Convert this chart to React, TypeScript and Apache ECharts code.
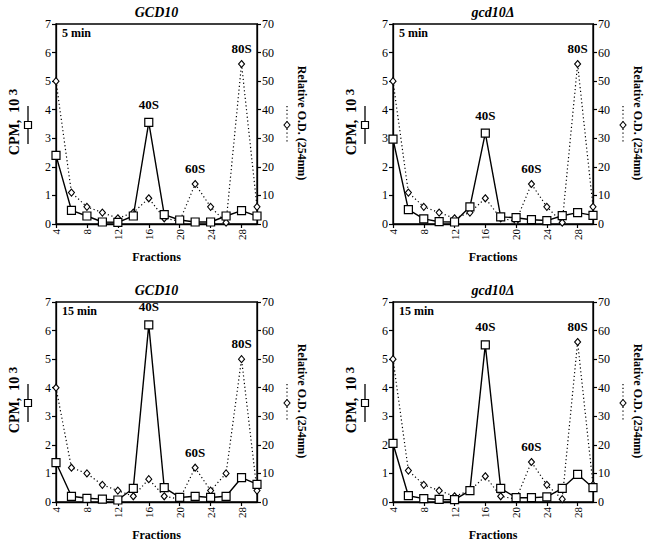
import React, { useEffect, useRef } from "react";
import * as echarts from "echarts";

const fractions = [4, 6, 8, 10, 12, 14, 16, 18, 20, 22, 24, 26, 28, 30];
const xTicks = { min: 4, max: 30, interval: 4 };
const cpmTicks = { min: 0, max: 7, interval: 1 };
const odTicks = { min: 0, max: 70, interval: 10 };

const titles = ["GCD10", "gcd10Δ", "GCD10", "gcd10Δ"];
const times = ["5 min", "5 min", "15 min", "15 min"];

const cpm5WT = [2.4, 0.48, 0.28, 0.07, 0.06, 0.28, 3.56, 0.33, 0.14, 0.07, 0.07, 0.28, 0.47, 0.28];
const od5WT = [50, 11, 6, 4, 2, 4, 9, 2, 1, 14, 6, 0.5, 56, 6];
const cpm5Mut = [2.97, 0.5, 0.18, 0.08, 0.07, 0.6, 3.18, 0.25, 0.22, 0.15, 0.12, 0.29, 0.4, 0.3];
const od5Mut = [50, 11, 6, 4, 2, 4, 9, 2, 1, 14, 6, 0.5, 56, 6];
const cpm15WT = [1.38, 0.2, 0.13, 0.1, 0.07, 0.48, 6.2, 0.5, 0.16, 0.2, 0.16, 0.2, 0.85, 0.62];
const od15WT = [40, 12, 10, 6, 4, 2, 8, 2, 1, 12, 4, 10, 50, 4];
const cpm15Mut = [2.05, 0.22, 0.12, 0.09, 0.08, 0.4, 5.5, 0.48, 0.15, 0.15, 0.18, 0.48, 0.97, 0.5];
const od15Mut = [50, 11, 6, 4, 2, 4, 9, 2, 1, 14, 6, 1, 56, 6];

const cpmSets = [cpm5WT, cpm5Mut, cpm15WT, cpm15Mut];
const odSets = [od5WT, od5Mut, od15WT, od15Mut];

// peak annotations: label, which series, fraction
const peaks = [
  { label: "40S", series: "cpm", fraction: 16 },
  { label: "60S", series: "od", fraction: 22 },
  { label: "80S", series: "od", fraction: 28 },
];

const FONT = "Liberation Serif";

const grids = [
  { left: 56, top: 24, width: 201, height: 200 },
  { left: 393, top: 24, width: 200, height: 200 },
  { left: 56, top: 302, width: 201, height: 200 },
  { left: 393, top: 302, width: 200, height: 200 },
];

function buildOption() {
  const xAxis: any[] = [];
  const yAxis: any[] = [];
  const series: any[] = [];
  const graphic: any[] = [];

  grids.forEach((g, i) => {
    xAxis.push({
      type: "value",
      gridIndex: i,
      min: xTicks.min,
      max: xTicks.max,
      interval: xTicks.interval,
      splitLine: { show: false },
      axisLine: { show: true, onZero: false, lineStyle: { color: "#000", width: 1.3 } },
      axisTick: { show: true, length: 4, lineStyle: { color: "#000", width: 1.2 } },
      axisLabel: {
        rotate: 90,
        margin: 5,
        color: "#000",
        fontFamily: FONT,
        fontSize: 11,
        showMaxLabel: false,
      },
    });
    yAxis.push({
      type: "value",
      gridIndex: i,
      position: "left",
      min: cpmTicks.min,
      max: cpmTicks.max,
      interval: cpmTicks.interval,
      splitLine: { show: false },
      axisLine: { show: true, lineStyle: { color: "#000", width: 1.3 } },
      axisTick: { show: true, length: 4, lineStyle: { color: "#000", width: 1.2 } },
      axisLabel: { color: "#000", fontFamily: FONT, fontSize: 12, margin: 5 },
    });
    yAxis.push({
      type: "value",
      gridIndex: i,
      position: "right",
      min: odTicks.min,
      max: odTicks.max,
      interval: odTicks.interval,
      splitLine: { show: false },
      axisLine: { show: true, lineStyle: { color: "#000", width: 1.3 } },
      axisTick: { show: true, length: 4, lineStyle: { color: "#000", width: 1.2 } },
      axisLabel: { color: "#000", fontFamily: FONT, fontSize: 12, margin: 5 },
    });

    const mkData = (vals: number[], kind: string) =>
      fractions.map((f, k) => {
        const pk = peaks.find((p) => p.series === kind && p.fraction === f);
        const item: any = { value: [f, vals[k]] };
        if (pk) {
          item.label = {
            show: true,
            formatter: pk.label,
            position: "top",
            distance: kind === "cpm" ? 7 : 5,
            color: "#000",
            fontFamily: FONT,
            fontWeight: "bold",
            fontSize: 13,
          };
        }
        return item;
      });

    series.push({
      type: "line",
      xAxisIndex: i,
      yAxisIndex: i * 2,
      data: mkData(odSets[i].map((v) => v / 10), "od"),
      symbol: "diamond",
      symbolSize: [6, 7],
      showAllSymbol: true,
      lineStyle: { color: "#000", width: 1.2, type: [1.2, 2.6] },
      itemStyle: { color: "#fff", borderColor: "#000", borderWidth: 1.1 },
      z: 2,
    });
    series.push({
      type: "line",
      xAxisIndex: i,
      yAxisIndex: i * 2,
      data: mkData(cpmSets[i], "cpm"),
      symbol: "rect",
      symbolSize: 8,
      showAllSymbol: true,
      lineStyle: { color: "#000", width: 1.4 },
      itemStyle: { color: "#fff", borderColor: "#000", borderWidth: 1.2 },
      z: 3,
    });
    // dummy series on right axis so it is "used"
    series.push({
      type: "line",
      xAxisIndex: i,
      yAxisIndex: i * 2 + 1,
      data: [],
    });

    const cx = g.left + g.width / 2;
    const right = g.left + g.width;
    const bottom = g.top + g.height;
    const gy = g.top + 101;

    graphic.push({
      type: "text",
      x: cx,
      y: g.top - 12,
      style: {
        text: titles[i],
        fontFamily: FONT,
        fontStyle: "italic",
        fontWeight: "bold",
        fontSize: 14,
        fill: "#000",
        align: "center",
        verticalAlign: "middle",
      },
    });
    graphic.push({
      type: "text",
      x: g.left + 6,
      y: g.top + 9,
      style: {
        text: times[i],
        fontFamily: FONT,
        fontWeight: "bold",
        fontSize: 12,
        fill: "#000",
        align: "left",
        verticalAlign: "middle",
      },
    });
    graphic.push({
      type: "text",
      x: cx,
      y: bottom + 33,
      style: {
        text: "Fractions",
        fontFamily: FONT,
        fontWeight: "bold",
        fontSize: 12,
        fill: "#000",
        align: "center",
        verticalAlign: "middle",
      },
    });
    // left axis name
    graphic.push({
      type: "text",
      x: g.left - 42,
      y: gy - 3,
      rotation: Math.PI / 2,
      style: {
        text: "{a|CPM,  10 }{s|3}",
        rich: {
          a: { fontFamily: FONT, fontWeight: "bold", fontSize: 14, fill: "#000" },
          s: { fontFamily: FONT, fontWeight: "bold", fontSize: 13, fill: "#000", padding: [0, 0, 4, 0] },
        },
        align: "center",
        verticalAlign: "middle",
      },
    });
    // left glyph
    graphic.push({
      type: "line",
      shape: { x1: g.left - 28, y1: gy - 19, x2: g.left - 28, y2: gy + 19 },
      style: { stroke: "#000", lineWidth: 1.3 },
    });
    graphic.push({
      type: "rect",
      shape: { x: g.left - 31.5, y: gy - 3.5, width: 7, height: 7 },
      style: { fill: "#fff", stroke: "#000", lineWidth: 1.2 },
    });
    // right glyph
    graphic.push({
      type: "line",
      shape: { x1: right + 30, y1: gy - 19, x2: right + 30, y2: gy + 19 },
      style: { stroke: "#000", lineWidth: 1.2, lineDash: [1.2, 2.6] },
    });
    graphic.push({
      type: "polygon",
      shape: {
        points: [
          [right + 30, gy - 3.5],
          [right + 33, gy],
          [right + 30, gy + 3.5],
          [right + 27, gy],
        ],
      },
      style: { fill: "#fff", stroke: "#000", lineWidth: 1.1 },
    });
    // right axis name
    graphic.push({
      type: "text",
      x: right + 45,
      y: gy - 2,
      rotation: -Math.PI / 2,
      style: {
        text: "Relative O.D. (254nm)",
        fontFamily: FONT,
        fontWeight: "bold",
        fontSize: 12,
        fill: "#000",
        align: "center",
        verticalAlign: "middle",
      },
    });
  });

  return {
    animation: false,
    backgroundColor: "#fff",
    grid: grids.map((g) => ({
      ...g,
      show: true,
      borderColor: "#000",
      borderWidth: 1.3,
      backgroundColor: "transparent",
      containLabel: false,
    })),
    xAxis,
    yAxis,
    series,
    graphic,
  };
}

export default function App() {
  const ref = useRef<HTMLDivElement>(null);
  useEffect(() => {
    if (!ref.current) return;
    const chart = echarts.init(ref.current, undefined, { renderer: "svg" });
    chart.setOption(buildOption() as any);
    return () => chart.dispose();
  }, []);
  return (
    <div
      ref={ref}
      style={{ position: "fixed", left: 0, top: 0, width: 649, height: 544, background: "#fff" }}
    />
  );
}
